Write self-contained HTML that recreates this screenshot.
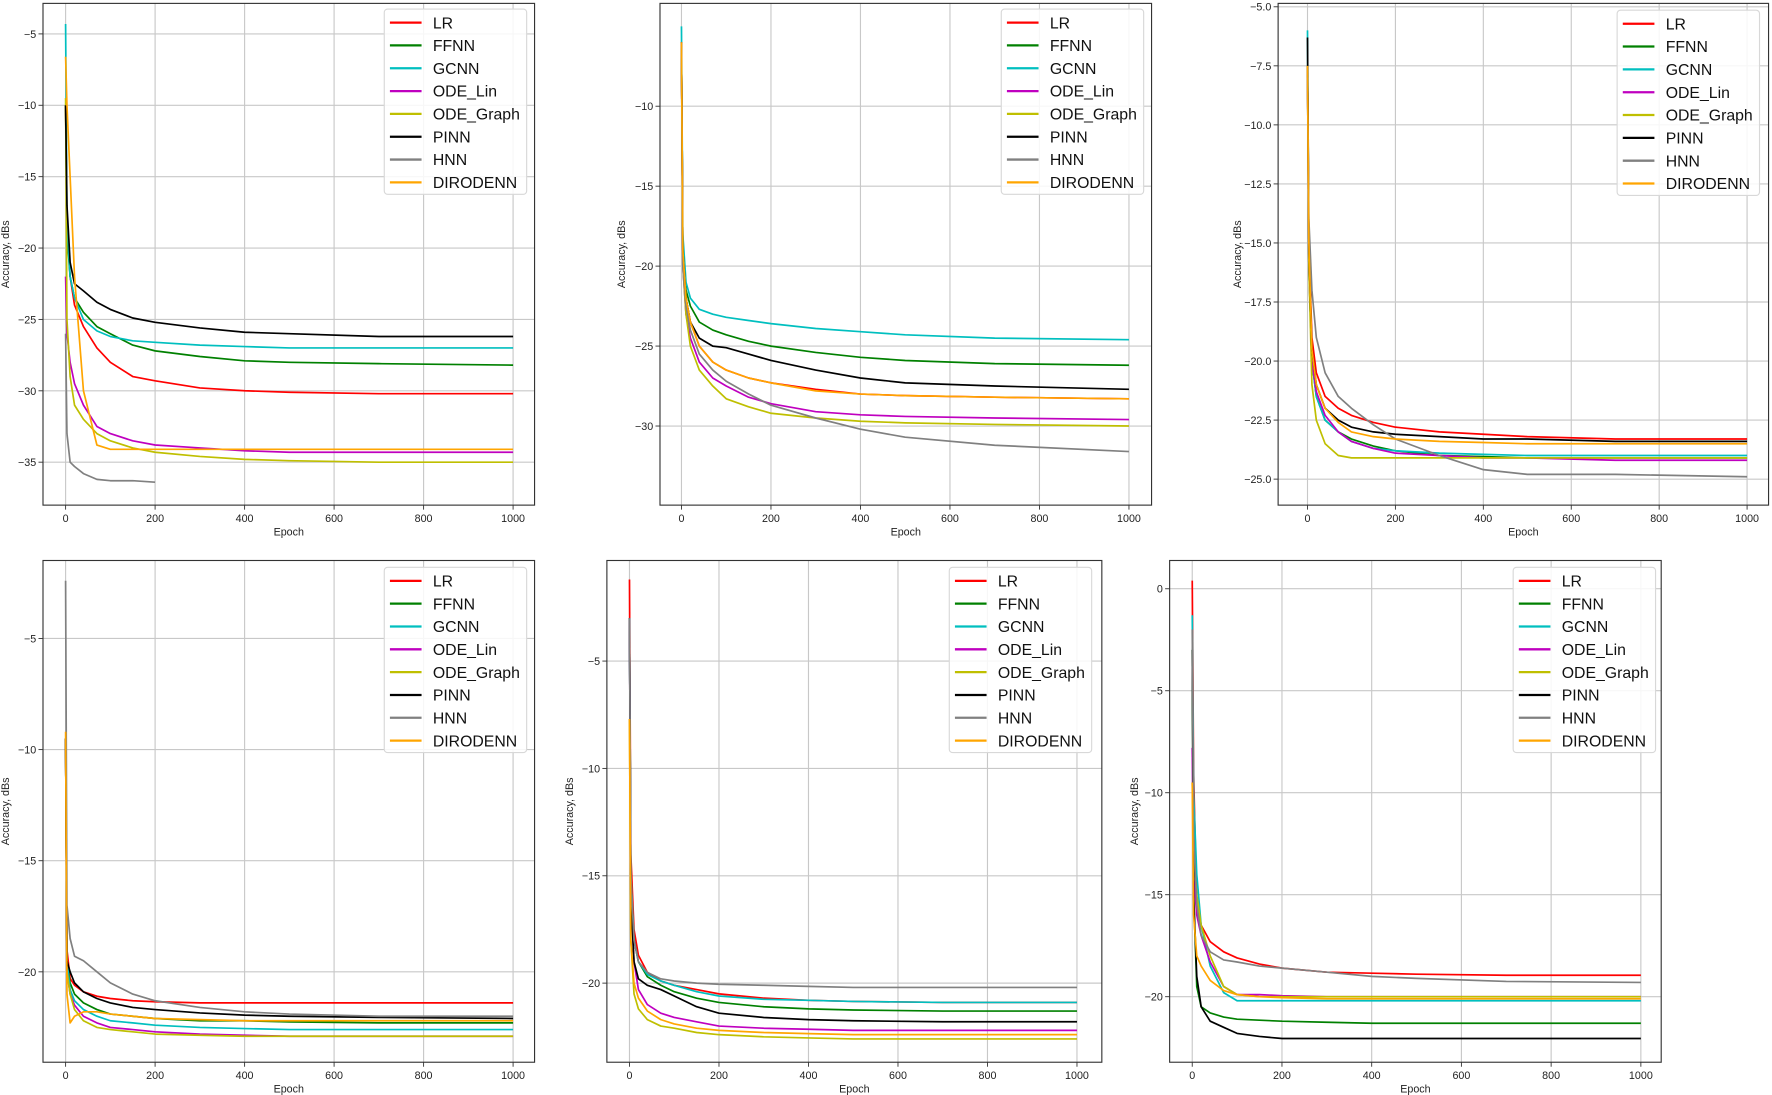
<!DOCTYPE html>
<html><head><meta charset="utf-8"><style>
html,body{margin:0;padding:0;background:#fff;}
svg{display:block;font-family:"Liberation Sans","DejaVu Sans",sans-serif;}
</style></head><body>
<svg id="fig" width="1772" height="1095" viewBox="0 0 1568 969" xmlns="http://www.w3.org/2000/svg"></svg>
<script>
const epochs=[0,3,10,20,40,70,100,150,200,300,400,500,700,1000];
const seriesNames=["LR","FFNN","GCNN","ODE_Lin","ODE_Graph","PINN","HNN","DIRODENN"];
const seriesColors=["#ff0000","#008000","#00bfbf","#bf00bf","#bfbf00","#000000","#808080","#ffa500"];
const xTicks=[0,200,400,600,800,1000];
// panel 1 (top-left)
const p1LR=[-10,-18,-22,-24,-25.5,-27,-28,-29,-29.3,-29.8,-30,-30.1,-30.2,-30.2];
const p1FFNN=[-10,-19,-22,-23.5,-24.5,-25.5,-26,-26.8,-27.2,-27.6,-27.9,-28,-28.1,-28.2];
const p1GCNN=[-4.3,-18,-22,-23.5,-25,-25.8,-26.2,-26.5,-26.6,-26.8,-26.9,-27,-27,-27];
const p1ODELin=[-22,-26,-28,-29.5,-31,-32.5,-33,-33.5,-33.8,-34,-34.2,-34.3,-34.3,-34.3];
const p1ODEGraph=[-9.5,-25,-29,-31,-32,-33,-33.5,-34,-34.3,-34.6,-34.8,-34.9,-35,-35];
const p1PINN=[-10,-17,-21,-22.5,-23,-23.8,-24.3,-24.9,-25.2,-25.6,-25.9,-26,-26.2,-26.2];
const p1HNN=[-26,-33,-35,-35.3,-35.8,-36.2,-36.3,-36.3,-36.4,null,null,null,null,null];
const p1DIRODENN=[-6.6,-10,-15,-22,-30,-33.8,-34.1,-34.1,-34.1,-34.1,-34.1,-34.1,-34.1,-34.1];
const p1YTicks=[-5,-10,-15,-20,-25,-30,-35];
// panel 2 (top-middle)
const p2LR=[-6,-19,-22,-23.5,-25,-26,-26.5,-27,-27.3,-27.7,-28,-28.1,-28.2,-28.3];
const p2FFNN=[-6,-19,-21.5,-22.5,-23.5,-24,-24.3,-24.7,-25,-25.4,-25.7,-25.9,-26.1,-26.2];
const p2GCNN=[-5,-18,-21,-22,-22.7,-23,-23.2,-23.4,-23.6,-23.9,-24.1,-24.3,-24.5,-24.6];
const p2ODELin=[-6,-20,-23,-24.5,-26,-27,-27.5,-28.2,-28.6,-29.1,-29.3,-29.4,-29.5,-29.6];
const p2ODEGraph=[-6,-20,-23,-25,-26.5,-27.5,-28.3,-28.8,-29.2,-29.5,-29.7,-29.8,-29.9,-30];
const p2PINN=[-6,-19,-22,-23.5,-24.5,-25,-25.1,-25.5,-25.9,-26.5,-27,-27.3,-27.5,-27.7];
const p2HNN=[-6,-20,-22.5,-24,-25.5,-26.5,-27.2,-28,-28.7,-29.5,-30.2,-30.7,-31.2,-31.6];
const p2DIRODENN=[-6,-19,-22,-23.5,-25,-26,-26.5,-27,-27.3,-27.8,-28,-28.1,-28.2,-28.3];
const p2YTicks=[-10,-15,-20,-25,-30];
// panel 3 (top-right)
const p3LR=[-7.5,-15,-19,-20.5,-21.5,-22,-22.3,-22.6,-22.8,-23,-23.1,-23.2,-23.3,-23.3];
const p3FFNN=[-7.5,-16,-20,-21.5,-22.5,-23,-23.3,-23.6,-23.8,-24,-24.05,-24.1,-24.1,-24.1];
const p3GCNN=[-6,-16,-20,-21.5,-22.5,-23,-23.4,-23.7,-23.8,-23.9,-23.95,-24,-24,-24];
const p3ODELin=[-7.5,-16,-20,-21.3,-22.3,-23,-23.4,-23.7,-23.9,-24,-24.1,-24.1,-24.2,-24.2];
const p3ODEGraph=[-7.5,-16,-21,-22.5,-23.5,-24,-24.1,-24.1,-24.1,-24.1,-24.1,-24.1,-24.1,-24.1];
const p3PINN=[-6.3,-15,-19.5,-21,-22,-22.5,-22.8,-23,-23.1,-23.2,-23.3,-23.3,-23.4,-23.4];
const p3HNN=[-8,-14,-17,-19,-20.5,-21.5,-22,-22.7,-23.3,-24,-24.6,-24.8,-24.8,-24.9];
const p3DIRODENN=[-7.5,-15,-19.5,-21,-22,-22.6,-23,-23.2,-23.3,-23.4,-23.45,-23.5,-23.5,-23.5];
const p3YTicks=[-5,-7.5,-10,-12.5,-15,-17.5,-20,-22.5,-25];
const p3YLabels=["−5.0","−7.5","−10.0","−12.5","−15.0","−17.5","−20.0","−22.5","−25.0"];
// panel 4 (bottom-left)
const p4LR=[-9.5,-19,-20.3,-20.6,-20.9,-21.1,-21.2,-21.3,-21.35,-21.4,-21.4,-21.4,-21.4,-21.4];
const p4FFNN=[-9.5,-19.5,-20.5,-21,-21.4,-21.7,-21.9,-22,-22.1,-22.2,-22.2,-22.25,-22.3,-22.3];
const p4GCNN=[-9.5,-19.5,-20.8,-21.3,-21.7,-22,-22.2,-22.3,-22.4,-22.5,-22.55,-22.6,-22.6,-22.6];
const p4ODELin=[-9.5,-20,-21,-21.5,-22,-22.3,-22.5,-22.6,-22.7,-22.8,-22.85,-22.9,-22.9,-22.9];
const p4ODEGraph=[-9.5,-20,-21,-21.7,-22.2,-22.5,-22.6,-22.7,-22.8,-22.85,-22.9,-22.9,-22.9,-22.9];
const p4PINN=[-9.5,-19.5,-20,-20.5,-20.9,-21.2,-21.4,-21.6,-21.7,-21.85,-21.95,-22,-22.05,-22.1];
const p4HNN=[-2.4,-17,-18.5,-19.3,-19.5,-20,-20.5,-21,-21.3,-21.6,-21.8,-21.9,-22,-22];
const p4DIRODENN=[-9.2,-21,-22.3,-22,-21.8,-21.8,-21.9,-22,-22.1,-22.15,-22.2,-22.2,-22.2,-22.2];
const p4YTicks=[-5,-10,-15,-20];
// panel 5 (bottom-middle)
const p5LR=[-1.2,-14,-17.5,-18.7,-19.5,-19.9,-20.1,-20.3,-20.5,-20.7,-20.8,-20.85,-20.9,-20.9];
const p5FFNN=[-3,-15,-18,-19,-19.7,-20.1,-20.4,-20.7,-20.9,-21.1,-21.2,-21.25,-21.3,-21.3];
const p5GCNN=[-3,-15,-18,-19,-19.6,-19.9,-20.1,-20.4,-20.6,-20.75,-20.8,-20.85,-20.9,-20.9];
const p5ODELin=[-3,-16,-19,-20.3,-21,-21.4,-21.6,-21.8,-22,-22.1,-22.15,-22.2,-22.2,-22.2];
const p5ODEGraph=[-7.7,-18,-20.5,-21.2,-21.7,-22,-22.1,-22.3,-22.4,-22.5,-22.55,-22.6,-22.6,-22.6];
const p5PINN=[-3,-16,-19,-19.8,-20.1,-20.3,-20.6,-21.1,-21.4,-21.6,-21.7,-21.75,-21.8,-21.8];
const p5HNN=[-3,-15,-18,-19,-19.5,-19.8,-19.9,-20,-20.05,-20.1,-20.15,-20.2,-20.2,-20.2];
const p5DIRODENN=[-7.7,-18,-20,-20.7,-21.3,-21.7,-21.9,-22.1,-22.2,-22.3,-22.35,-22.4,-22.4,-22.4];
const p5YTicks=[-5,-10,-15,-20];
// panel 6 (bottom-right)
const p6LR=[0.4,-9,-15.5,-16.5,-17.3,-17.8,-18.1,-18.4,-18.6,-18.8,-18.85,-18.9,-18.95,-18.95];
const p6FFNN=[-3,-15,-19.5,-20.5,-20.8,-21,-21.1,-21.15,-21.2,-21.25,-21.3,-21.3,-21.3,-21.3];
const p6GCNN=[-1.3,-10,-14,-16.5,-18.5,-19.8,-20.2,-20.2,-20.2,-20.2,-20.2,-20.2,-20.2,-20.2];
const p6ODELin=[-7.8,-14,-16,-17,-18.3,-19.5,-19.9,-19.9,-19.95,-20,-20,-20,-20,-20];
const p6ODEGraph=[-9.5,-13,-15,-16.5,-18,-19.5,-19.9,-20,-20,-20,-20,-20,-20,-20];
const p6PINN=[-3,-15,-19,-20.5,-21.2,-21.5,-21.8,-21.95,-22.05,-22.05,-22.05,-22.05,-22.05,-22.05];
const p6HNN=[-2,-12,-15.5,-17,-17.8,-18.2,-18.3,-18.5,-18.6,-18.8,-19,-19.1,-19.25,-19.3];
const p6DIRODENN=[-9.5,-16,-18,-18.5,-19.2,-19.7,-19.9,-20,-20.05,-20.1,-20.1,-20.1,-20.1,-20.1];
const p6YTicks=[0,-5,-10,-15,-20];

const NS="http://www.w3.org/2000/svg";
const svg=document.getElementById('fig');
function mk(tag,attrs,parent){const e=document.createElementNS(NS,tag);for(const k in attrs)e.setAttribute(k,attrs[k]);(parent||svg).appendChild(e);return e;}
function fmt(v){return (v<0?"−":"")+Math.abs(v);}

const panels=[
 {id:"top-left",L:38,R:473,T:3,B:447,x0:58,x1:454,ya:-5,yaP:30,yb:-35,ybP:409,lx:340,ly:8,ticks:p1YTicks,data:[p1LR,p1FFNN,p1GCNN,p1ODELin,p1ODEGraph,p1PINN,p1HNN,p1DIRODENN],ylx:8},
 {id:"top-middle",L:584,R:1019,T:3,B:447,x0:603,x1:999,ya:-10,yaP:94,yb:-30,ybP:377,lx:886,ly:8,ticks:p2YTicks,data:[p2LR,p2FFNN,p2GCNN,p2ODELin,p2ODEGraph,p2PINN,p2HNN,p2DIRODENN],ylx:553},
 {id:"top-right",L:1131,R:1565,T:3,B:447,x0:1157,x1:1546,ya:-5,yaP:6,yb:-25,ybP:424,lx:1431,ly:9,ticks:p3YTicks,labels:p3YLabels,data:[p3LR,p3FFNN,p3GCNN,p3ODELin,p3ODEGraph,p3PINN,p3HNN,p3DIRODENN],ylx:1098},
 {id:"bottom-left",L:38,R:473,T:496,B:940,x0:58,x1:454,ya:-5,yaP:565,yb:-20,ybP:860,lx:340,ly:502,ticks:p4YTicks,data:[p4LR,p4FFNN,p4GCNN,p4ODELin,p4ODEGraph,p4PINN,p4HNN,p4DIRODENN],ylx:8},
 {id:"bottom-middle",L:537,R:975,T:496,B:940,x0:557,x1:953,ya:-5,yaP:585,yb:-20,ybP:870,lx:840,ly:502,ticks:p5YTicks,data:[p5LR,p5FFNN,p5GCNN,p5ODELin,p5ODEGraph,p5PINN,p5HNN,p5DIRODENN],ylx:507},
 {id:"bottom-right",L:1035,R:1470,T:496,B:940,x0:1055,x1:1452,ya:0,yaP:521,yb:-20,ybP:882,lx:1339,ly:502,ticks:p6YTicks,data:[p6LR,p6FFNN,p6GCNN,p6ODELin,p6ODEGraph,p6PINN,p6HNN,p6DIRODENN],ylx:1007}
];

panels.forEach(p=>{
 const g=mk('g',{});
 
 
 const xs=v=>p.x0+(v-xTicks[0])/(xTicks[xTicks.length-1]-xTicks[0])*(p.x1-p.x0);
 const ys=v=>p.yaP+(v-p.ya)/(p.yb-p.ya)*(p.ybP-p.yaP);
 const clip='clip-'+p.id;
 const cp=mk('clipPath',{id:clip},g);mk('rect',{x:p.L,y:p.T,width:p.R-p.L,height:p.B-p.T},cp);
 xTicks.forEach(t=>{
  const l=mk('line',{x1:xs(t),x2:xs(t),y1:p.T,y2:p.B,stroke:'#c8c8c8','stroke-width':1},g);
  
  mk('line',{x1:xs(t),x2:xs(t),y1:p.B,y2:p.B+4,stroke:'#333','stroke-width':0.8},g);
  const tx=mk('text',{x:xs(t),y:p.B+15,'font-size':9.5,'text-anchor':'middle',fill:'#222'},g);
  tx.textContent=t;
  
 });
 p.ticks.forEach((t,i)=>{
  const l=mk('line',{x1:p.L,x2:p.R,y1:ys(t),y2:ys(t),stroke:'#c8c8c8','stroke-width':1},g);
  
  mk('line',{x1:p.L-4,x2:p.L,y1:ys(t),y2:ys(t),stroke:'#333','stroke-width':0.8},g);
  const tx=mk('text',{x:p.L-6,y:ys(t)+3.5,'font-size':9.5,'text-anchor':'end',fill:'#222'},g);
  tx.textContent=p.labels?p.labels[i]:fmt(t);
  
 });
 const sg=mk('g',{'clip-path':'url(#'+clip+')'},g);
 p.data.forEach((arr,si)=>{
  let d='';let pen=false;
  arr.forEach((v,i)=>{ if(v===null){pen=false;return;} d+=(pen?'L':'M')+xs(epochs[i]).toFixed(1)+','+ys(v).toFixed(1);pen=true;});
  const path=mk('path',{d:d,fill:'none',stroke:seriesColors[si],'stroke-width':1.5,'stroke-linejoin':'round'},sg);
  
  
 });
 const fr=mk('rect',{x:p.L,y:p.T,width:p.R-p.L,height:p.B-p.T,fill:'none',stroke:'#333','stroke-width':1},g);
 
 const xt=mk('text',{x:(p.L+p.R)/2,y:p.B+27,'font-size':9.5,'text-anchor':'middle',fill:'#222'},g);
 xt.textContent='Epoch';
 
 const yc=(p.T+p.B)/2;
 const yt=mk('text',{x:p.ylx,y:yc,'font-size':9.5,'text-anchor':'middle',fill:'#222',transform:'rotate(-90 '+(p.ylx)+' '+yc+')'},g);
 yt.textContent='Accuracy, dBs';
 
 const lg=mk('g',{},g);
 
 mk('rect',{x:p.lx,y:p.ly,width:126,height:164,rx:3,fill:'#fff','fill-opacity':0.85,stroke:'#d8d8d8','stroke-width':1},lg);
 seriesNames.forEach((n,i)=>{
  const yy=p.ly+12+i*20.2;
  const e=mk('g',{},lg);
  
  mk('line',{x1:p.lx+5,x2:p.lx+33,y1:yy,y2:yy,stroke:seriesColors[i],'stroke-width':2},e);
  const t=mk('text',{x:p.lx+43,y:yy+5,'font-size':14,fill:'#111'},e);
  t.textContent=n;
 });
});
</script>
</body></html>
